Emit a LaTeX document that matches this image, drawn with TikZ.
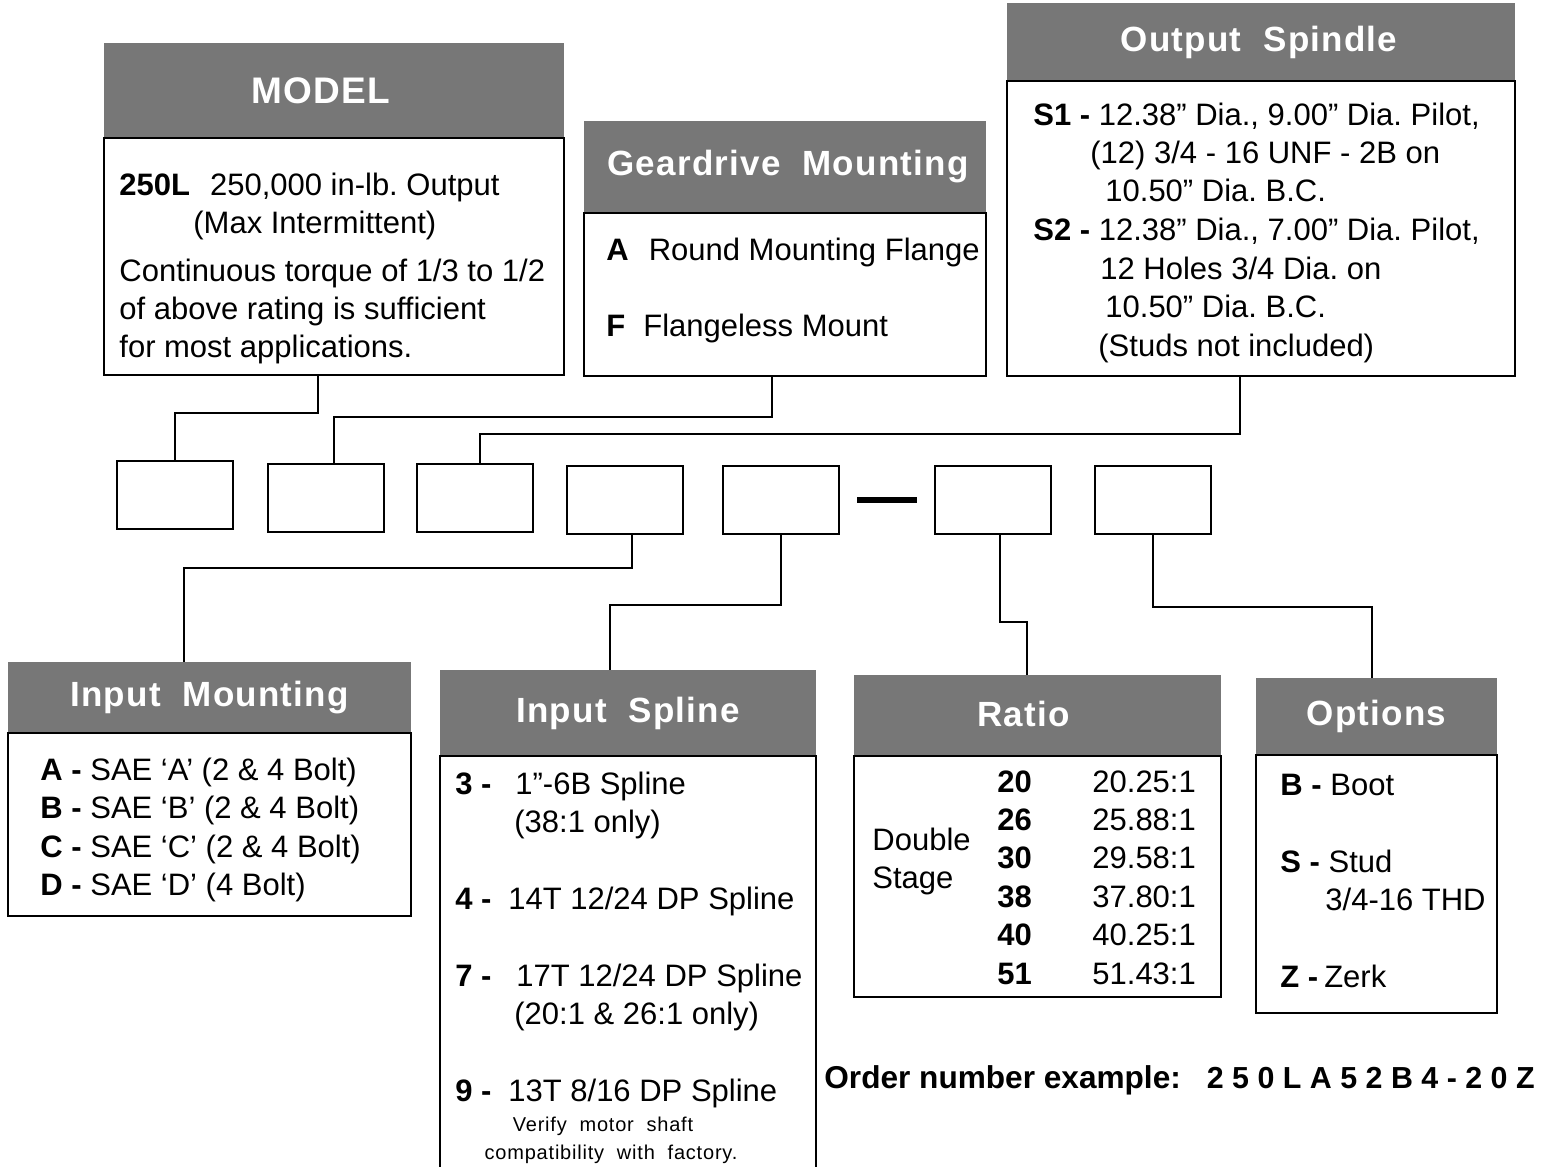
\documentclass[tikz,border=0pt]{standalone}
\usepackage{fontspec}
\setmainfont{Liberation Sans}
\newfontfamily\headfont{Liberation Sans}[LetterSpace=3.5]
\newfontfamily\notefont{Liberation Sans}[LetterSpace=4]
\usepackage{xcolor}
\definecolor{hdgray}{HTML}{777777}
\usetikzlibrary{positioning,calc}
\frenchspacing

\begin{document}
\begin{tikzpicture}[x=0.5pt,y=-0.5pt]
\tikzset{
 head/.style={fill=hdgray,text=white,inner sep=0,outer sep=0,anchor=north west,font=\headfont\bfseries\fontsize{17.5}{20}\selectfont},
 panel/.style={draw,line width=1.2pt,anchor=north west,inner sep=0,outer sep=0},
 txt/.style={anchor=base west,inner sep=0,font=\fontsize{15.5}{18}\selectfont},
 note/.style={anchor=base,inner sep=0,font=\notefont\fontsize{10}{12}\selectfont},
 codebox/.style={draw,line width=1.4pt,minimum width=58pt,minimum height=34pt,inner sep=0},
 link/.style={line width=1pt}
}
\useasboundingbox (0,0) rectangle (1551,1166);

% top panels
\node[head,minimum width=230pt,minimum height=47.5pt,font=\headfont\bfseries\fontsize{18.5}{20}\selectfont] (modelhead) at (104,43) {MODEL\kern13pt};
\node[panel,minimum width=230pt,minimum height=118.5pt] (modelbody) at (modelhead.south west) {};
\node[head,minimum width=201pt,minimum height=46pt] (gearhead) at (584,121) {Geardrive~~Mounting\kern-3pt};
\node[panel,minimum width=201pt,minimum height=81.5pt] (gearbody) at (gearhead.south west) {};
\node[head,minimum width=254pt,minimum height=39pt] (spinhead) at (1007,3) {\raisebox{2pt}{Output~~Spindle}\kern2pt};
\node[panel,minimum width=254pt,minimum height=147.5pt] (spinbody) at (spinhead.south west) {};

\node[txt] (m1) at (119,196) {\textbf{250L}\hspace{10pt}250,000 in-lb. Output};
\node[txt] (m2) at (193,234) {(Max Intermittent)};
\node[txt] (m3) at (119,281) {Continuous torque of 1/3 to 1/2};
\node[txt] (m4) at (119,319) {of above rating is sufficient};
\node[txt] (m5) at (119,357) {for most applications.};

\node[txt] (g1) at (606,260) {\textbf{A}\hspace{10pt}Round Mounting Flange};
\node[txt] (g2) at (606,336) {\textbf{F}\hspace{9pt}Flangeless Mount};

\node[txt] (o1) at (1033,126) {\textbf{S1 -} 12.38” Dia., 9.00” Dia. Pilot,};
\node[txt] (o2) at (1090,164) {(12) 3/4 - 16 UNF - 2B on};
\node[txt] (o3) at (1105,202) {10.50” Dia. B.C.};
\node[txt] (o4) at (1033,241) {\textbf{S2 -} 12.38” Dia., 7.00” Dia. Pilot,};
\node[txt] (o5) at (1100,279) {12 Holes 3/4 Dia. on};
\node[txt] (o6) at (1105,317) {10.50” Dia. B.C.};
\node[txt] (o7) at (1098,356) {(Studs not included)};

% code boxes
\node[codebox] (b1) at (175,495) {};
\node[codebox] (b2) at (326,498) {};
\node[codebox] (b3) at (475,498) {};
\node[codebox] (b4) at (625,500) {};
\node[codebox] (b5) at (781,500) {};
\node[codebox] (b6) at (993,500) {};
\node[codebox] (b7) at (1153,500) {};
\node[fill,minimum width=30pt,minimum height=3pt,inner sep=0] (dash) at ($(b5.east)!0.5!(b6.west)$) {};

% bottom panels
\node[head,minimum width=201.5pt,minimum height=35.5pt] (inmhead) at (8,662) {\raisebox{-1pt}{Input~~Mounting}};
\node[panel,minimum width=201.5pt,minimum height=91.5pt] (inmbody) at (inmhead.south west) {};
\node[head,minimum width=188pt,minimum height=43pt] (insphead) at (440,670) {Input~~Spline};
\node[panel,minimum width=188pt,minimum height=215pt] (inspbody) at (insphead.south west) {};
\node[head,minimum width=183.5pt,minimum height=40.5pt] (ratiohead) at (854,675) {\raisebox{2pt}{Ratio}\kern14pt};
\node[panel,minimum width=183.5pt,minimum height=120.5pt] (ratiobody) at (ratiohead.south west) {};
\node[head,minimum width=120.5pt,minimum height=38.5pt] (opthead) at (1256,678) {\raisebox{-2pt}{Options}};
\node[panel,minimum width=120.5pt,minimum height=129pt] (optbody) at (opthead.south west) {};

\foreach \k/\y/\s in {A/780/{SAE ‘A’ (2 \& 4 Bolt)},B/818/{SAE ‘B’ (2 \& 4 Bolt)},C/857/{SAE ‘C’ (2 \& 4 Bolt)},D/895/{SAE ‘D’ (4 Bolt)}}
  \node[txt] (im\k) at (40,\y) {\textbf{\k\ -} \s};

\node[txt] (is3) at (455,794) {\textbf{3 -}};
\node[txt] (is3a) at (515,794) {1”-6B Spline};
\node[txt] (is3b) at (514,832) {(38:1 only)};
\node[txt] (is4) at (455,909) {\textbf{4 -}};
\node[txt] (is4a) at (508,909) {14T 12/24 DP Spline};
\node[txt] (is7) at (455,986) {\textbf{7 -}};
\node[txt] (is7a) at (516,986) {17T 12/24 DP Spline};
\node[txt] (is7b) at (514,1024) {(20:1 \& 26:1 only)};
\node[txt] (is9) at (455,1101) {\textbf{9 -}};
\node[txt] (is9a) at (508,1101) {13T 8/16 DP Spline};
\node[note] (n1) at (603,1131) {Verify\ \ motor\ \ shaft};
\node[note] (n2) at (611,1159) {compatibility\ \ with\ \ factory.};

\node[txt] (ds1) at (872,850) {Double};
\node[txt] (ds2) at (872,888) {Stage};
\foreach \r/\v [count=\i] in {20/20.25,26/25.88,30/29.58,38/37.80,40/40.25,51/51.43}{
  \pgfmathsetmacro\yy{792+38.4*(\i-1)}
  \node[txt] (rk\i) at (997,\yy) {\textbf{\r}};
  \node[txt] (rv\i) at (1092,\yy) {\v:1};
}

\node[txt] (ob) at (1280,795) {\textbf{B -} Boot};
\node[txt] (os) at (1280,872) {\textbf{S -} Stud};
\node[txt] (os2) at (1325,910) {3/4-16 THD};
\node[txt] (oz) at (1280,987) {\textbf{Z -}\hspace{3pt}Zerk};

\node[txt,font=\bfseries\fontsize{15.8}{18}\selectfont] (order) at (824,1088) {Order number example:\hspace{13pt}{\fontsize{15.2}{18}\selectfont 2 5 0 L A 5 2 B 4 - 2 0 Z}};

% connectors
\draw[link] ([xshift=-8pt]modelbody.south) -- ++(0,38) -| (b1.north);
\draw[link] ([xshift=-6.5pt]gearbody.south) -- ++(0,41) -| ([xshift=4pt]b2.north);
\draw[link] ([xshift=-10.5pt]spinbody.south) -- ++(0,58) -| ([xshift=2.5pt]b3.north);
\draw[link] ([xshift=3.5pt]b4.south) -- ++(0,33) -| ([xshift=-13pt]inmhead.north);
\draw[link] (b5.south) -- ++(0,70) -| ([xshift=-9pt]insphead.north);
\draw[link] ([xshift=3.5pt]b6.south) -- ++(0,87) -| ([xshift=-5.25pt]ratiohead.north);
\draw[link] (b7.south) -- ++(0,72) -| ([xshift=-2.25pt]opthead.north);
\end{tikzpicture}
\end{document}
